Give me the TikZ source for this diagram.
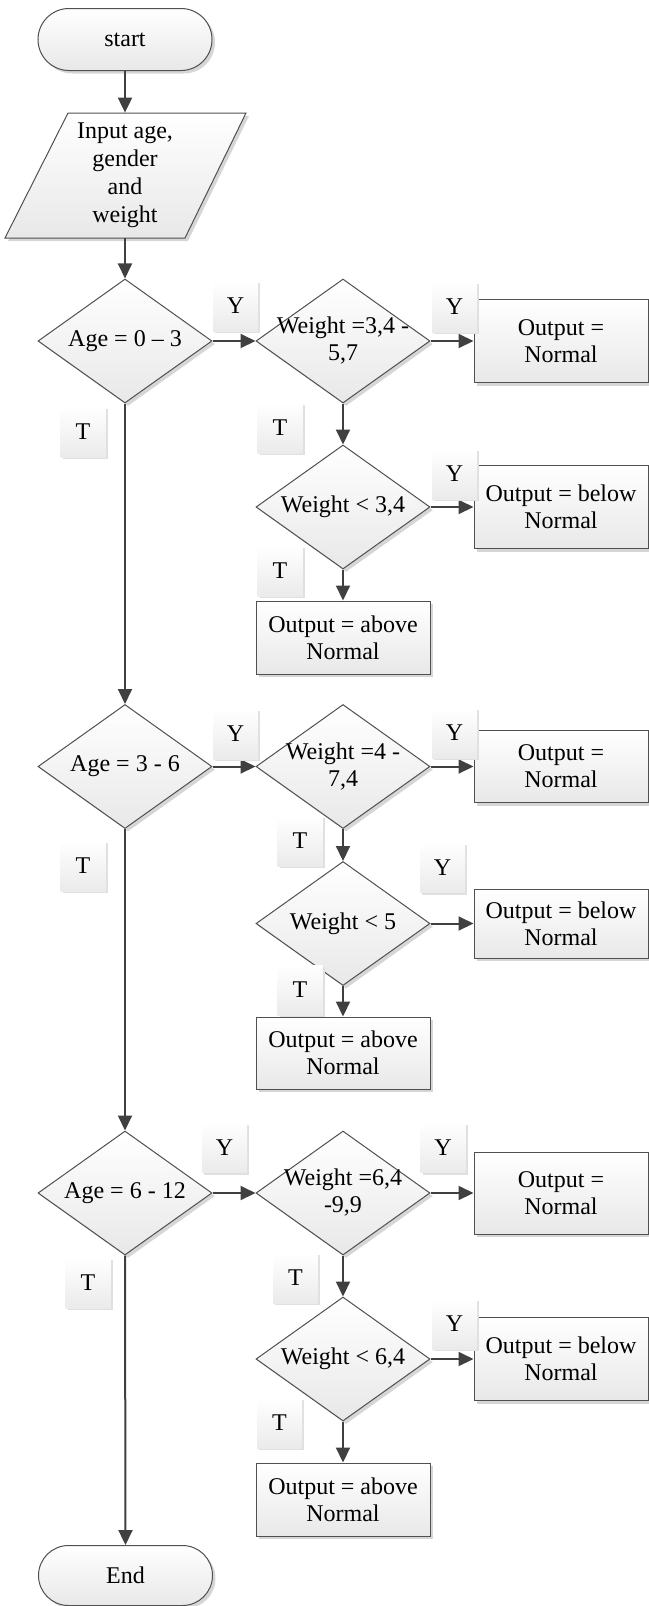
\documentclass[tikz,border=0pt]{standalone}
\usepackage{fontspec}
\setmainfont{Liberation Serif}
\usetikzlibrary{shapes.geometric,arrows.meta,shadows}
\definecolor{edgec}{HTML}{505050}
\definecolor{arrc}{HTML}{404040}
\begin{document}
\begin{tikzpicture}[x=0.5pt,y=-0.5pt,
  font=\fontsize{12}{13.5}\selectfont,
  shp/.style={draw=edgec, line width=0.5pt, top color=white, bottom color=black!9,
    drop shadow={shadow xshift=1.5pt,shadow yshift=-1.5pt,fill=black!16,opacity=1}},
  term/.style={shp, rectangle, rounded corners=15.5pt, minimum width=87pt, minimum height=31pt},
  dia/.style={shp, diamond, minimum width=87pt, minimum height=62pt, inner sep=0pt},
  box/.style={shp, rectangle, minimum width=87pt, align=center, inner sep=0pt},
  lab/.style={rectangle, minimum width=22.5pt, minimum height=25pt, inner sep=0pt,
    top color=white, bottom color=black!8,
    drop shadow={shadow xshift=1pt,shadow yshift=-1pt,fill=black!12,opacity=1}},
  arr/.style={draw=arrc, line width=1pt, -{Triangle[length=7.5pt,width=7pt]}},
  txt/.style={align=center}
]
\useasboundingbox (0,0) rectangle (648,1606);

% start / input
\node[term] (start) at (125,39.5) {start};
\path[shp] (68,113) -- (246,113) -- (185,238) -- (5,238) -- cycle;
\node[txt, minimum height=62.5pt, inner sep=0pt, font=\fontsize{12}{14}\selectfont] (inp) at (125,175.5) {\raisebox{-3pt}{\parbox{60pt}{\centering Input age,\\gender\\and\\weight}}};

% section 1
\node[dia, label={[txt]center:Age = 0 – 3}] (a1) at (125,341) {};
\node[dia, label={[txt]center:Weight =3,4 -\\5,7}] (w1) at (343,341) {};
\node[box, minimum height=41.5pt] (n1) at (561,341) {Output =\\Normal};
\node[dia, label={[txt]center:Weight < 3,4}] (w1b) at (343,507) {};
\node[box, minimum height=41.5pt] (b1) at (561,507) {Output = below\\Normal};
\node[box, minimum height=36.5pt] (ab1) at (343,637.5) {Output = above\\Normal};

% section 2
\node[dia, label={[txt]center:Age = 3 - 6}] (a2) at (125,766.5) {};
\node[dia, label={[txt]center:Weight =4 -\\7,4}] (w2) at (343,766.5) {};
\node[box, minimum height=36pt] (n2) at (561,766.5) {Output =\\Normal};
\node[dia, label={[txt]center:Weight < 5}] (w2b) at (343,923.5) {};
\node[box, minimum height=34.5pt] (b2) at (561,923.5) {Output = below\\Normal};
\node[box, minimum height=36pt] (ab2) at (343,1053) {Output = above\\Normal};

% section 3
\node[dia, label={[txt]center:Age = 6 - 12}] (a3) at (125,1193) {};
\node[dia, label={[txt]center:Weight =6,4\\-9,9}] (w3) at (343,1193) {};
\node[box, minimum height=41pt] (n3) at (561,1193) {Output =\\Normal};
\node[dia, label={[txt]center:Weight < 6,4}] (w3b) at (343,1359) {};
\node[box, minimum height=41.5pt] (b3) at (561,1359) {Output = below\\Normal};
\node[box, minimum height=36.5pt] (ab3) at (343,1499.5) {Output = above\\Normal};

\node[term, minimum height=30pt, rounded corners=15pt] (end) at (125.5,1575.5) {End};

% connectors
\draw[arr] (start) -- (inp);
\draw[arr] (inp) -- (a1);
\draw[arr] (a1) -- (w1);
\draw[arr] (w1) -- (n1);
\draw[arr] (w1) -- (w1b);
\draw[arr] (w1b) -- (b1);
\draw[arr] (w1b) -- (ab1);
\draw[arr] (a1) -- (a2);
\draw[arr] (a2) -- (w2);
\draw[arr] (w2) -- (n2);
\draw[arr] (w2) -- (w2b);
\draw[arr] (w2b) -- (b2);
\draw[arr] (w2b) -- (ab2);
\draw[arr] (a2) -- (a3);
\draw[arr] (a3) -- (w3);
\draw[arr] (w3) -- (n3);
\draw[arr] (w3) -- (w3b);
\draw[arr] (w3b) -- (b3);
\draw[arr] (w3b) -- (ab3);
\draw[arr] (a3.south) -- (end.north);

% Y / T labels
\node[lab] (y1) at (235.5,306) {Y};
\node[lab] (t1) at (83,432) {T};
\node[lab] (y2) at (454.5,307) {Y};
\node[lab] (t2) at (280,428) {T};
\node[lab] (y3) at (454.5,474) {Y};
\node[lab] (t3) at (280,571) {T};
\node[lab] (y4) at (235.5,734) {Y};
\node[lab] (t4) at (83,866) {T};
\node[lab] (y5) at (454.5,733) {Y};
\node[lab] (t5) at (300,841) {T};
\node[lab] (y6) at (442.5,867.5) {Y};
\node[lab] (t6) at (300,990) {T};
\node[lab] (y7) at (224.5,1147.5) {Y};
\node[lab] (t7) at (88,1283) {T};
\node[lab] (y8) at (443,1147.5) {Y};
\node[lab] (t8) at (295.5,1278) {T};
\node[lab] (y9) at (454.5,1324) {Y};
\node[lab] (t9) at (279.5,1423) {T};
\end{tikzpicture}
\end{document}
